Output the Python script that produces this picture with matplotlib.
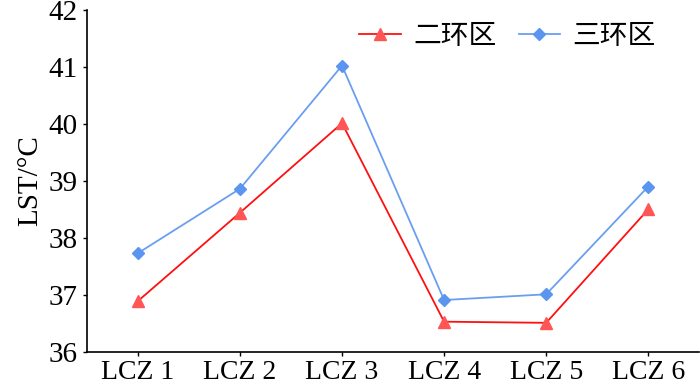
import matplotlib.pyplot as plt

plt.rcParams['font.family'] = ['Liberation Serif', 'Noto Sans CJK SC']

categories = ['LCZ 1', 'LCZ 2', 'LCZ 3', 'LCZ 4', 'LCZ 5', 'LCZ 6']
ring2 = [36.89, 38.44, 40.01, 36.53, 36.51, 38.50]
ring3 = [37.73, 38.86, 41.02, 36.91, 37.01, 38.90]

fig = plt.figure(figsize=(7, 3.88), dpi=100)
ax = fig.add_axes([0.124, 0.093, 0.875, 0.882])

x = range(len(categories))
ax.plot(x, ring2, color='#FF1010', lw=1.3, marker='^', ms=8,
        markerfacecolor='#FF5555', markeredgecolor='#FF5555', label='二环区')
ax.plot(x, ring3, color='#6A9FF0', lw=1.3, marker='D', ms=6,
        markerfacecolor='#5A95F0', markeredgecolor='#5A95F0', label='三环区')

ax.set_xlim(-0.5, 5.5)
ax.set_ylim(36, 42)
ax.set_xticks(list(x))
ax.set_xticklabels(categories)
ax.set_yticks(range(36, 43))
ax.set_ylabel('LST/°C', fontsize=21, labelpad=4)
ax.tick_params(axis='y', labelsize=21, direction='out', length=3, width=1)
ax.tick_params(axis='x', labelsize=20, direction='out', length=3, width=1, pad=3)
for s in ['top', 'right']:
    ax.spines[s].set_visible(False)
for s in ['left', 'bottom']:
    ax.spines[s].set_linewidth(1.2)

leg = ax.legend(loc='upper right', ncol=2, frameon=False,
                handlelength=1.5, handletextpad=0.45, columnspacing=0.8,
                bbox_to_anchor=(0.97, 1.04),
                prop={'family': ['Noto Sans CJK SC'], 'size': 20})

fig.savefig('out.png', dpi=100)
